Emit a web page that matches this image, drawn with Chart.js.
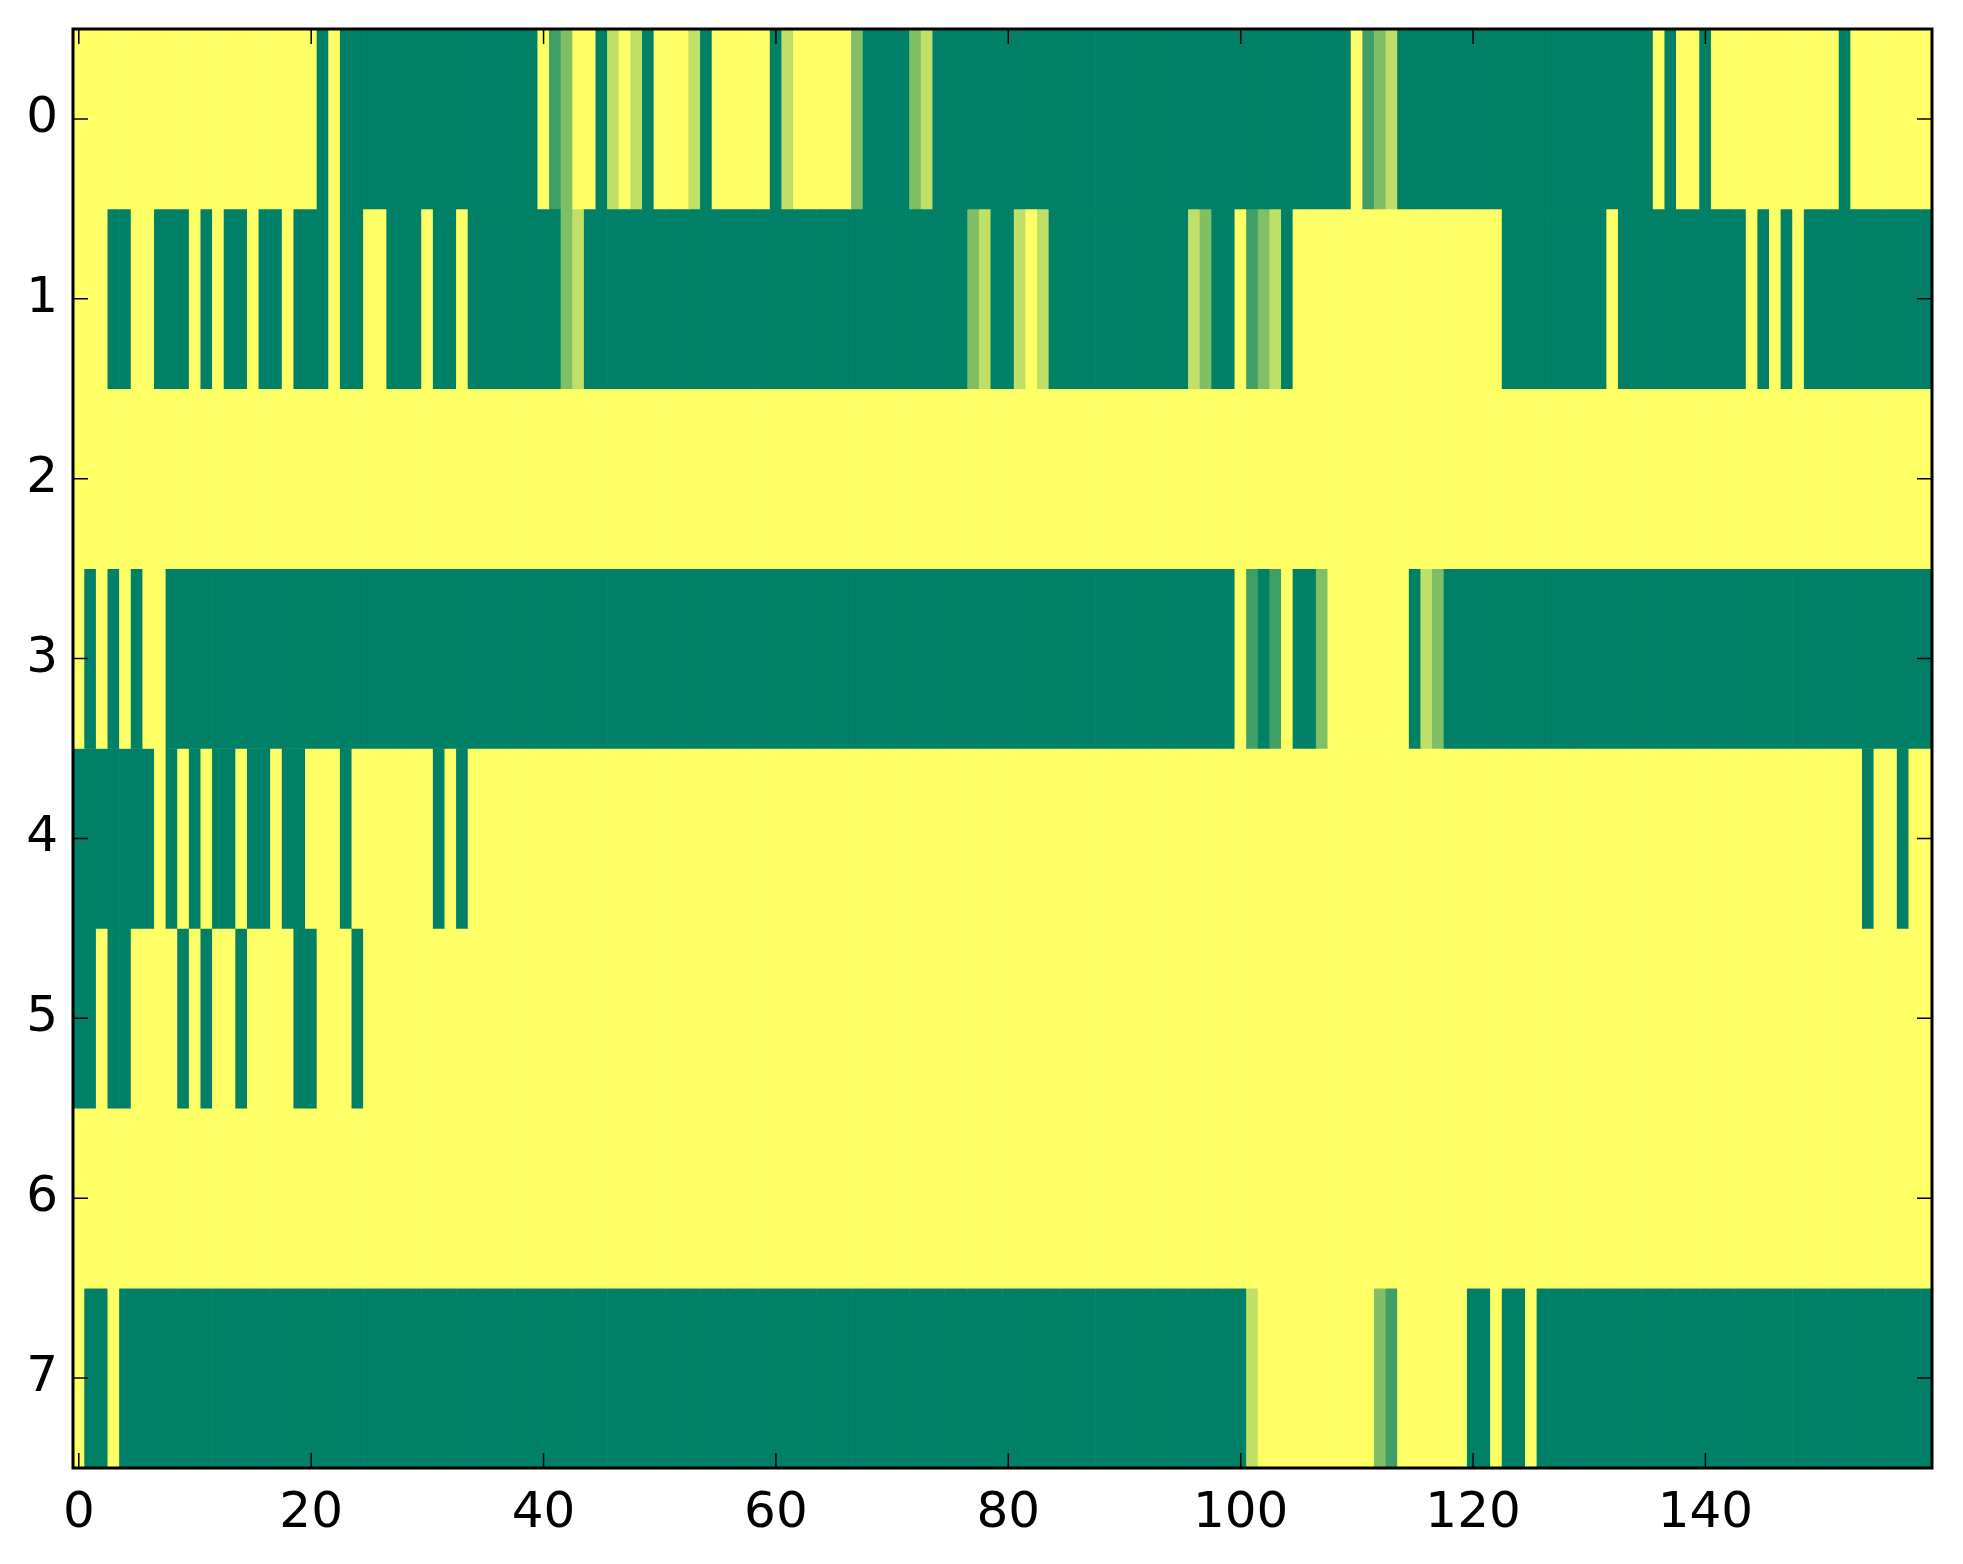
<!DOCTYPE html>
<html>
<head>
<meta charset="utf-8">
<script src="https://cdn.jsdelivr.net/npm/chart.js@4/dist/chart.umd.min.js"></script>
<style>
  html, body { margin: 0; padding: 0; background: #ffffff; }
  #wrap { width: 1963px; height: 1564px; position: relative; }
</style>
</head>
<body>
<div id="wrap"><canvas id="c"></canvas></div>
<script>
// ---- data (8 rows x 160 columns, values 0..1, summer colormap) ----
const rowLabels = [0, 1, 2, 3, 4, 5, 6, 7];
const xTickValues = [0, 20, 40, 60, 80, 100, 120, 140];
const yTickValues = [0, 1, 2, 3, 4, 5, 6, 7];

const row0 = [
  1,1,1,1,1,1,1,1,1,1,  1,1,1,1,1,1,1,1,1,1,
  1,0,1,0,0,0,0,0,0,0,  0,0,0,0,0,0,0,0,0,0,
  1,.25,.5,1,1,0,.75,1,.75,0,  1,1,1,.75,0,1,1,1,1,1,
  0,.75,1,1,1,1,1,.5,0,0,  0,0,.5,.75,0,0,0,0,0,0,
  0,0,0,0,0,0,0,0,0,0,  0,0,0,0,0,0,0,0,0,0,
  0,0,0,0,0,0,0,0,0,0,  1,.25,.5,.75,0,0,0,0,0,0,
  0,0,0,0,0,0,0,0,0,0,  0,0,0,0,0,0,1,0,1,1,
  0,1,1,1,1,1,1,1,1,1,  1,1,0,1,1,1,1,1,1,1
];
const row1 = [
  1,1,1,0,0,1,1,0,0,0,  1,0,1,0,0,1,0,0,1,0,
  0,0,1,0,0,1,1,0,0,0,  1,0,0,1,0,0,0,0,0,0,
  0,0,.5,.75,0,0,0,0,0,0,  0,0,0,0,0,0,0,0,0,0,
  0,0,0,0,0,0,0,0,0,0,  0,0,0,0,0,0,0,.5,.75,0,
  0,.75,1,.75,0,0,0,0,0,0,  0,0,0,0,0,0,.75,.5,0,0,
  1,.25,.5,.75,0,1,1,1,1,1,  1,1,1,1,1,1,1,1,1,1,
  1,1,1,0,0,0,0,0,0,0,  0,0,1,0,0,0,0,0,0,0,
  0,0,0,0,1,0,1,0,1,0,  0,0,0,0,0,0,0,0,0,0
];
const row2 = [
  1,1,1,1,1,1,1,1,1,1,  1,1,1,1,1,1,1,1,1,1,
  1,1,1,1,1,1,1,1,1,1,  1,1,1,1,1,1,1,1,1,1,
  1,1,1,1,1,1,1,1,1,1,  1,1,1,1,1,1,1,1,1,1,
  1,1,1,1,1,1,1,1,1,1,  1,1,1,1,1,1,1,1,1,1,
  1,1,1,1,1,1,1,1,1,1,  1,1,1,1,1,1,1,1,1,1,
  1,1,1,1,1,1,1,1,1,1,  1,1,1,1,1,1,1,1,1,1,
  1,1,1,1,1,1,1,1,1,1,  1,1,1,1,1,1,1,1,1,1,
  1,1,1,1,1,1,1,1,1,1,  1,1,1,1,1,1,1,1,1,1
];
const row3 = [
  1,0,1,0,1,0,1,1,0,0,  0,0,0,0,0,0,0,0,0,0,
  0,0,0,0,0,0,0,0,0,0,  0,0,0,0,0,0,0,0,0,0,
  0,0,0,0,0,0,0,0,0,0,  0,0,0,0,0,0,0,0,0,0,
  0,0,0,0,0,0,0,0,0,0,  0,0,0,0,0,0,0,0,0,0,
  0,0,0,0,0,0,0,0,0,0,  0,0,0,0,0,0,0,0,0,0,
  1,.25,0,.25,1,0,0,.5,1,1,  1,1,1,1,1,0,.75,.5,0,0,
  0,0,0,0,0,0,0,0,0,0,  0,0,0,0,0,0,0,0,0,0,
  0,0,0,0,0,0,0,0,0,0,  0,0,0,0,0,0,0,0,0,0
];
const row4 = [
  0,0,0,0,0,0,0,1,0,1,  0,1,0,0,1,0,0,1,0,0,
  1,1,1,0,1,1,1,1,1,1,  1,0,1,0,1,1,1,1,1,1,
  1,1,1,1,1,1,1,1,1,1,  1,1,1,1,1,1,1,1,1,1,
  1,1,1,1,1,1,1,1,1,1,  1,1,1,1,1,1,1,1,1,1,
  1,1,1,1,1,1,1,1,1,1,  1,1,1,1,1,1,1,1,1,1,
  1,1,1,1,1,1,1,1,1,1,  1,1,1,1,1,1,1,1,1,1,
  1,1,1,1,1,1,1,1,1,1,  1,1,1,1,1,1,1,1,1,1,
  1,1,1,1,1,1,1,1,1,1,  1,1,1,1,0,1,1,0,1,1
];
const row5 = [
  0,0,1,0,0,1,1,1,1,0,  1,0,1,1,0,1,1,1,1,0,
  0,1,1,1,0,1,1,1,1,1,  1,1,1,1,1,1,1,1,1,1,
  1,1,1,1,1,1,1,1,1,1,  1,1,1,1,1,1,1,1,1,1,
  1,1,1,1,1,1,1,1,1,1,  1,1,1,1,1,1,1,1,1,1,
  1,1,1,1,1,1,1,1,1,1,  1,1,1,1,1,1,1,1,1,1,
  1,1,1,1,1,1,1,1,1,1,  1,1,1,1,1,1,1,1,1,1,
  1,1,1,1,1,1,1,1,1,1,  1,1,1,1,1,1,1,1,1,1,
  1,1,1,1,1,1,1,1,1,1,  1,1,1,1,1,1,1,1,1,1
];
const row6 = [
  1,1,1,1,1,1,1,1,1,1,  1,1,1,1,1,1,1,1,1,1,
  1,1,1,1,1,1,1,1,1,1,  1,1,1,1,1,1,1,1,1,1,
  1,1,1,1,1,1,1,1,1,1,  1,1,1,1,1,1,1,1,1,1,
  1,1,1,1,1,1,1,1,1,1,  1,1,1,1,1,1,1,1,1,1,
  1,1,1,1,1,1,1,1,1,1,  1,1,1,1,1,1,1,1,1,1,
  1,1,1,1,1,1,1,1,1,1,  1,1,1,1,1,1,1,1,1,1,
  1,1,1,1,1,1,1,1,1,1,  1,1,1,1,1,1,1,1,1,1,
  1,1,1,1,1,1,1,1,1,1,  1,1,1,1,1,1,1,1,1,1
];
const row7 = [
  1,0,0,1,0,0,0,0,0,0,  0,0,0,0,0,0,0,0,0,0,
  0,0,0,0,0,0,0,0,0,0,  0,0,0,0,0,0,0,0,0,0,
  0,0,0,0,0,0,0,0,0,0,  0,0,0,0,0,0,0,0,0,0,
  0,0,0,0,0,0,0,0,0,0,  0,0,0,0,0,0,0,0,0,0,
  0,0,0,0,0,0,0,0,0,0,  0,0,0,0,0,0,0,0,0,0,
  0,.75,1,1,1,1,1,1,1,1,  1,1,.5,.25,1,1,1,1,1,1,
  0,0,1,0,0,1,0,0,0,0,  0,0,0,0,0,0,0,0,0,0,
  0,0,0,0,0,0,0,0,0,0,  0,0,0,0,0,0,0,0,0,0
];
const rows = [row0, row1, row2, row3, row4, row5, row6, row7];

// matplotlib "summer" colormap
function summer(v) {
  const r = Math.round(255 * v);
  const g = Math.round(255 * (0.5 + 0.5 * v));
  const b = Math.round(255 * 0.4);
  return `rgb(${r},${g},${b})`;
}

const datasets = rows.map((vals, r) => ({
  label: 'row ' + rowLabels[r],
  data: vals.map((v, i) => ({ x: i, y: [rowLabels[r] - 0.5, rowLabels[r] + 0.5] })),
  backgroundColor: vals.map(summer),
  borderWidth: 0,
  barPercentage: 1,
  categoryPercentage: 1,
  grouped: false
}));

const FONT = { family: 'DejaVu Sans', size: 50 };

const framePlugin = {
  id: 'frame',
  afterDraw(chart) {
    const { ctx, chartArea: a, scales } = chart;
    const tl = 15;
    ctx.save();
    ctx.strokeStyle = '#000';
    ctx.lineWidth = 1.5;
    ctx.beginPath();
    xTickValues.forEach(v => {
      const px = scales.x.getPixelForValue(v);
      ctx.moveTo(px, a.bottom); ctx.lineTo(px, a.bottom - tl);
      ctx.moveTo(px, a.top); ctx.lineTo(px, a.top + tl);
    });
    yTickValues.forEach(v => {
      const py = scales.y.getPixelForValue(v);
      ctx.moveTo(a.left, py); ctx.lineTo(a.left + tl, py);
      ctx.moveTo(a.right, py); ctx.lineTo(a.right - tl, py);
    });
    ctx.stroke();
    ctx.lineWidth = 3;
    ctx.strokeRect(a.left, a.top, a.right - a.left, a.bottom - a.top);
    ctx.restore();
  }
};

new Chart(document.getElementById('c'), {
  type: 'bar',
  data: { datasets },
  options: {
    responsive: true,
    maintainAspectRatio: false,
    animation: false,
    events: [],
    layout: { padding: { left: 0, top: 29, right: 31, bottom: 0 } },
    plugins: { legend: { display: false }, tooltip: { enabled: false } },
    scales: {
      x: {
        type: 'linear',
        min: -0.5,
        max: 159.5,
        offset: false,
        grid: { display: false, drawTicks: false },
        border: { display: false },
        ticks: { font: FONT, color: '#000', padding: 16, maxRotation: 0 },
        afterBuildTicks: s => { s.ticks = xTickValues.map(v => ({ value: v })); },
        afterFit: s => { s.height = 96; s.paddingLeft = 0; s.paddingRight = 0; }
      },
      y: {
        type: 'linear',
        reverse: true,
        min: -0.5,
        max: 7.5,
        grid: { display: false, drawTicks: false },
        border: { display: false },
        ticks: { font: FONT, color: '#000', padding: 15 },
        afterBuildTicks: s => { s.ticks = yTickValues.map(v => ({ value: v })); },
        afterFit: s => { s.width = 73; s.paddingTop = 0; s.paddingBottom = 0; }
      }
    }
  },
  plugins: [framePlugin]
});
</script>
</body>
</html>
